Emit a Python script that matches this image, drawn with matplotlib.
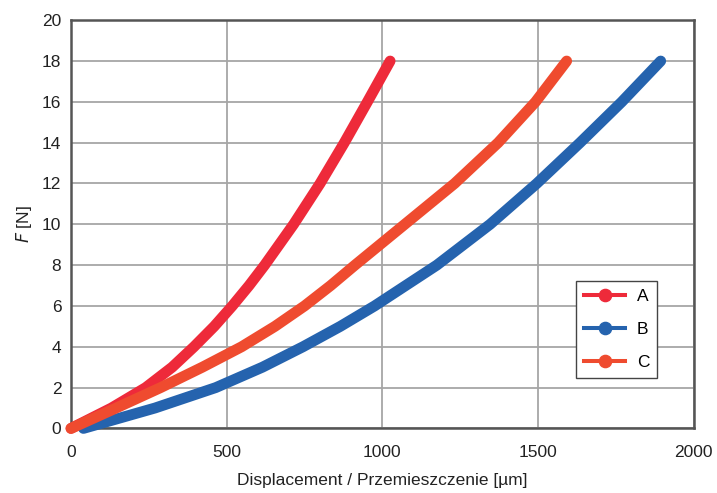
import matplotlib
matplotlib.use("Agg")
import matplotlib.pyplot as plt
from matplotlib.lines import Line2D

# ---- F(displacement) curves, displacement in um, force in N ----
A_x = [0, 130, 240, 325, 395, 460, 518, 572, 622, 715, 800, 878, 952, 1025]
A_y = [0, 1, 2, 3, 4, 5, 6, 7, 8, 10, 12, 14, 16, 18]

B_x = [40, 270, 465, 615, 745, 865, 975, 1175, 1346, 1496, 1635, 1769, 1894]
B_y = [0, 1, 2, 3, 4, 5, 6, 8, 10, 12, 14, 16, 18]

C_x = [0, 145, 288, 422, 548, 655, 750, 834, 912, 1072, 1232, 1372, 1492, 1592]
C_y = [0, 1, 2, 3, 4, 5, 6, 7, 8, 10, 12, 14, 16, 18]

labels = ["A", "B", "C"]
colors = ["#ee2a3a", "#2563ae", "#ef4b2f"]

x_ticks = [0, 500, 1000, 1500, 2000]
y_ticks = list(range(0, 21, 2))

plt.rcParams['font.family'] = ['Liberation Sans', 'DejaVu Sans']
fs = 12.5

fig = plt.figure(figsize=(7.17, 4.93), dpi=100)
ax = fig.add_axes([0.099, 0.131, 0.8685, 0.828])

for xs, ys, c in zip([A_x, B_x, C_x], [A_y, B_y, C_y], colors):
    ax.plot(xs, ys, color=c, lw=7.8, solid_capstyle='round',
            solid_joinstyle='round', clip_on=False, zorder=3)

ax.set_xlim(0, 2000)
ax.set_ylim(0, 20)
ax.set_xticks(x_ticks)
ax.set_yticks(y_ticks)
ax.grid(True, color="#a6a6a6", lw=1.3)
ax.set_axisbelow(True)
ax.tick_params(length=0, labelsize=fs, colors="#222222")
ax.tick_params(axis='x', pad=12)
ax.tick_params(axis='y', pad=7)
for sp in ax.spines.values():
    sp.set_color("#555555")
    sp.set_linewidth(1.8)

ax.set_xlabel("Displacement / Przemieszczenie [µm]", fontsize=fs, color="#222222", labelpad=9)
ax.set_ylabel("$\\mathit{F}$ [N]", fontsize=fs, color="#222222", labelpad=5.5)

handles = [Line2D([0], [0], color=c, lw=2.9, marker='o', markersize=8.8) for c in colors]
leg = ax.legend(handles, labels, loc='lower left', bbox_to_anchor=(0.811, 0.123),
                borderaxespad=0, fontsize=fs, handlelength=2.4, handletextpad=0.65,
                labelspacing=1.05, borderpad=0.45,
                fancybox=False, framealpha=1, edgecolor="#444444")
leg.get_frame().set_linewidth(1.0)

fig.savefig("out.png", dpi=100)
